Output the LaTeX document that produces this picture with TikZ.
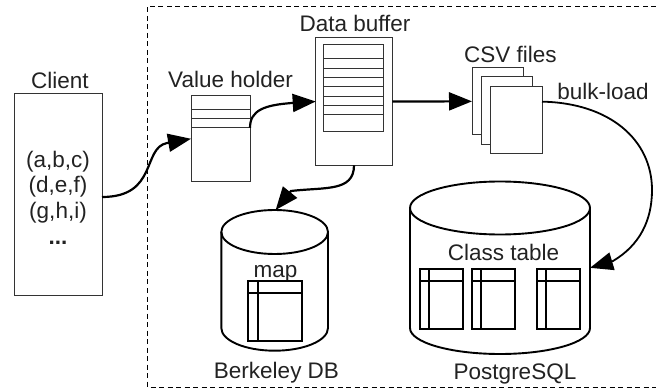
\documentclass[tikz,border=0pt]{standalone}
\usepackage{fontspec}
\setmainfont{Liberation Sans}
\usetikzlibrary{arrows.meta}
\definecolor{txt}{HTML}{222222}
\definecolor{edge}{HTML}{333333}
\tikzset{
  x=1pt,y=-1pt,
  label/.style={font=\fontsize{22.5}{22.5}\selectfont,text=txt,anchor=base,inner sep=0pt},
  sized/.style 2 args={minimum width=#1pt,minimum height=#2pt},
  pane/.style={draw=edge,fill=white,line width=1pt,inner sep=0pt,anchor=north west,outer sep=0pt},
  rowline/.style={draw=edge,line width=1pt},
  dbframe/.style={draw=none,inner sep=0pt,anchor=north west,outer sep=0pt},
  dbline/.style={draw=black,line width=1.9pt},
  grid/.style={draw=black,line width=1.9pt,inner sep=0pt,anchor=north west,outer sep=0pt},
  flow/.style={draw=black,line width=2.2pt,-{Triangle[length=23pt,width=18pt]}},
  thinflow/.style={draw=black,line width=1.8pt,-{Triangle[length=23pt,width=18pt]}},
  frame/.style={draw=black,line width=0.9pt,dash pattern=on 5pt off 3.5pt}
}
\begin{document}
\begin{tikzpicture}
\useasboundingbox (0,0) rectangle (656,390);
% system frame
\coordinate (ftr) at (656,6);
\coordinate (ftl) at (147.5,6);
\coordinate (fbl) at (147.5,387);
\coordinate (fbr) at (656,387);
\draw[frame] (ftr) -- (ftl) -- (fbl) -- (fbr);

% client
\node[pane,sized={88}{201}] (client) at (14,94) {};
\node[label] (clienttitle) at (60,89) {Client};
\node[label] (row1) at (58,168) {(a,b,c)};
\node[label] (row2) at (58,193) {(d,e,f)};
\node[label] (row3) at (58,219) {(g,h,i)};
\node[label,font=\fontsize{22.5}{22.5}\selectfont\bfseries] (row4) at (58,244) {...};

% value holder
\node[pane,sized={59}{86.5}] (value) at (191,95.5) {};
\node[label] (valuetitle) at (230.5,87.3) {Value holder};
\foreach \ypos in {109.3,118.7,127.7}
  \draw[rowline] (191,\ypos) -- (250,\ypos);

% data buffer
\node[pane,sized={76.6}{127.6}] (buffer) at (315.7,37.7) {};
\node[pane,sized={59.3}{87}] (bufferrows) at (323.7,45) {};
\node[label] (buffertitle) at (355,32) {Data buffer};
\foreach \ypos in {59,68.3,77.7,87,96.3,105.7,115}
  \draw[rowline] (323.7,\ypos) -- (383,\ypos);

% csv files
\node[pane,sized={51.3}{67.3}] (csva) at (472,67.7) {};
\node[pane,sized={51.3}{67.3}] (csvb) at (481.3,77) {};
\node[pane,sized={51.3}{67.3}] (csvc) at (490.7,86.3) {};
\node[label] (csvtitle) at (510.5,62.7) {CSV files};
\node[label] (bulk) at (603,100) {bulk-load};

% berkeley db
\node[dbframe,sized={106.7}{140.7}] (bdb) at (221.3,210) {};
\draw[dbline] (221.3,232) arc[x radius=53.35,y radius=22,start angle=180,end angle=-180];
\draw[dbline] (221.3,232) -- (221.3,328) arc[x radius=53.35,y radius=22.7,start angle=180,end angle=0] -- (328,232);
\node[label] (maptitle) at (275.5,277.3) {map};
\node[grid,fill=white,sized={54.3}{60}] (mapt) at (247.7,281) {};
\draw[grid] (247.7,292.7) -- (302,292.7) (258.3,281) -- (258.3,341);
\node[label] (bdbtitle) at (276.5,378) {Berkeley DB};

% postgres
\node[dbframe,sized={180}{172.3}] (pg) at (410,181.7) {};
\draw[dbline] (410,208) arc[x radius=90,y radius=26.5,start angle=180,end angle=-180];
\draw[dbline] (410,208) -- (410,328) arc[x radius=90,y radius=26,start angle=180,end angle=0] -- (590,208);
\node[label] (classtitle) at (503.5,261) {Class table};
\node[grid,sized={43}{60}] (ta) at (420,269.3) {};
\draw[grid] (420,281) -- (463,281) (429,269.3) -- (429,329.3);
\node[grid,sized={43}{60}] (tb) at (472,269.3) {};
\draw[grid] (472,281) -- (515,281) (481,269.3) -- (481,329.3);
\node[grid,sized={43}{60}] (tc) at (537,269.3) {};
\draw[grid] (537,281) -- (580,281) (546,269.3) -- (546,329.3);
\node[label] (pgtitle) at (515,379.3) {PostgreSQL};

% connectors
\draw[flow] ([yshift=-2.5pt]client.east) .. controls (158,197) and (142,148) .. (167,143) -- (value.west);
\draw[flow] ([yshift=11pt]value.east) .. controls (250,110) and (265,105) .. (292,103) -- (buffer.west);
\draw[flow] (buffer.east) -- (csva.west);
\draw[flow] (buffer.south) .. controls (354,192) and (325,187) .. (291,191) -- ([xshift=1pt]bdb.north);
\draw[thinflow] ([yshift=18.3pt]csvc.east) .. controls (610,103) and (652,140) .. (652,190) .. controls (652,220) and (640,245) .. (613,261) -- (pg.east);
\end{tikzpicture}
\end{document}
